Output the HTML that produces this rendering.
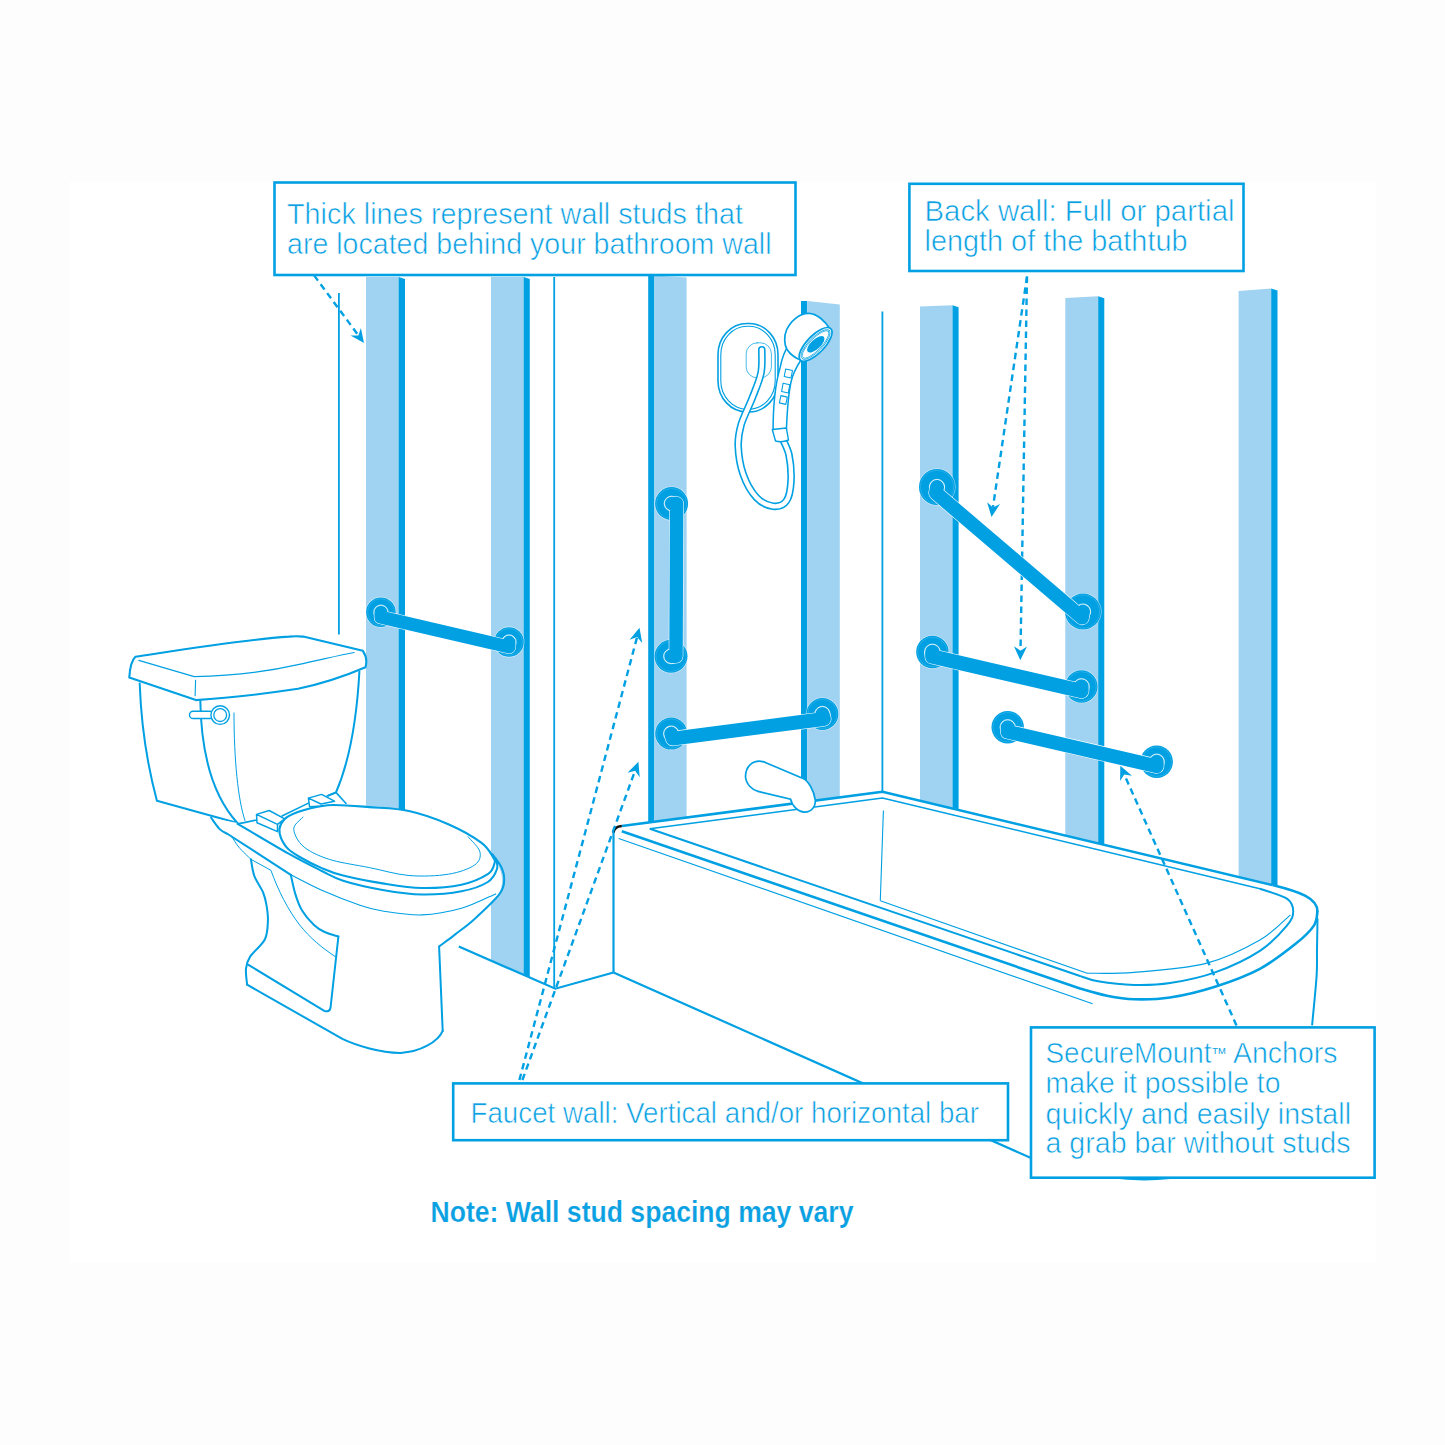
<!DOCTYPE html>
<html><head><meta charset="utf-8"><style>
html,body{margin:0;padding:0;background:#fdfdfd;}
svg{display:block;}
text{font-family:"Liberation Sans", sans-serif;}
</style></head><body>
<svg width="1445" height="1445" viewBox="0 0 1445 1445">
<rect x="0" y="0" width="1445" height="1445" fill="#fdfdfd"/>
<rect x="69" y="182" width="1307" height="1081" fill="#ffffff"/>
<g stroke="#00a0e3" stroke-width="1.8" fill="none">
<path d="M338.9,293 V634.5"/>
<path d="M554.2,277 V988.7"/>
<path d="M882.4,311.6 V795"/>
</g>
<path d="M366,277 L398.6,277 L398.6,812 L366,812Z" fill="#a0d2f1"/><path d="M398.6,277 L405,279 L405,812 L398.6,812Z" fill="#00a0e3"/>
<path d="M491,277 L523.6,277 L523.6,974.8 L491,960.6 Z" fill="#a0d2f1"/>
<path d="M523.6,277 L529.8,279 L529.8,977.5 L523.6,974.8 Z" fill="#00a0e3"/>
<path d="M648.2,275.5 L654.4,275.5 L654.4,830 L648.2,830Z" fill="#00a0e3"/><path d="M654.4,275.5 L686.6,277.5 L686.6,830 L654.4,830Z" fill="#a0d2f1"/>
<path d="M801,301 L807.2,301 L807.2,805 L801,805Z" fill="#00a0e3"/><path d="M807.2,301 L839.8,304.5 L839.8,805 L807.2,805Z" fill="#a0d2f1"/>
<path d="M920,306.4 L952.5,305.2 L952.5,820 L920,820Z" fill="#a0d2f1"/><path d="M952.5,305.2 L958.6,307.2 L958.6,820 L952.5,820Z" fill="#00a0e3"/>
<path d="M1065.3,298.09999999999997 L1098.2,296.2 L1098.2,850 L1065.3,850Z" fill="#a0d2f1"/><path d="M1098.2,296.2 L1104.3,298.2 L1104.3,850 L1098.2,850Z" fill="#00a0e3"/>
<path d="M1238.6,291.0 L1271.2,288.5 L1271.2,890 L1238.6,890Z" fill="#a0d2f1"/><path d="M1271.2,288.5 L1277.5,290.5 L1277.5,890 L1271.2,890Z" fill="#00a0e3"/>
<g fill="none" stroke="#00a0e3" stroke-linejoin="round" stroke-linecap="round">
<rect x="718" y="323.5" width="60" height="88.5" rx="29" ry="31" stroke-width="1.6" fill="#fff"/>
<rect x="720.8" y="326.3" width="54.4" height="82.9" rx="26.5" ry="28.5" stroke-width="1.1"/>
<rect x="746.2" y="342.8" width="25.2" height="35" rx="11" stroke-width="0.9" opacity="0.8"/>
<path d="M761.8,349.8 C761.7,353.7 762.6,365.0 761.0,373.0 C759.4,381.0 755.6,389.3 752.3,397.9 C749.0,406.5 743.6,416.5 741.2,424.5 C738.9,432.5 737.9,437.8 738.2,446.1 C738.5,454.4 740.2,465.7 743.2,474.3 C746.2,482.9 751.5,492.3 756.5,497.6 C761.5,502.9 768.1,505.6 773.1,506.2 C778.1,506.8 783.4,505.1 786.4,500.9 C789.4,496.7 790.6,488.8 791.0,481.0 C791.4,473.2 790.5,461.9 788.9,454.4 C787.2,446.9 782.4,439.1 781.1,436.0" stroke-width="7.6"/>
<path d="M761.8,349.8 C761.7,353.7 762.6,365.0 761.0,373.0 C759.4,381.0 755.6,389.3 752.3,397.9 C749.0,406.5 743.6,416.5 741.2,424.5 C738.9,432.5 737.9,437.8 738.2,446.1 C738.5,454.4 740.2,465.7 743.2,474.3 C746.2,482.9 751.5,492.3 756.5,497.6 C761.5,502.9 768.1,505.6 773.1,506.2 C778.1,506.8 783.4,505.1 786.4,500.9 C789.4,496.7 790.6,488.8 791.0,481.0 C791.4,473.2 790.5,461.9 788.9,454.4 C787.2,446.9 782.4,439.1 781.1,436.0" stroke="#fff" stroke-width="4.4"/>
<path d="M773.1,430.3 C773.1,410 775,385 780,368 C782,358 785,350 789,345 L801,360 C797,366 793,373 791,382 C788,396 787,415 786.4,429.5 Z" fill="#fff" stroke-width="1.5"/>
<path d="M772.3,429.5 L786.4,428 L788.5,440 C784,442 779,442 775.5,441 Z" fill="#fff" stroke-width="1.4"/>
<path d="M785.7,369 L792.5,370.5 L791.0,378 L784.2,376.5 Z" stroke-width="1.1"/>
<path d="M783.1,383.2 L789.8,384.7 L788.3,393 L781.6,391.5 Z" stroke-width="1.1"/>
<path d="M780.9,395.6 L787.3,397.1 L785.8,404.4 L779.4,402.9 Z" stroke-width="1.1"/>
<path d="M830,329 C825,321 817,313.5 808.8,313.3 C799,313 790,322 786.5,330 C783.5,337 784.5,345 787,349.5 C790,354 795,358 801.5,360.5 Z" fill="#fff" stroke-width="1.7"/>
<ellipse cx="815.6" cy="344.4" rx="21.8" ry="8.8" transform="rotate(-46 815.6 344.4)" fill="#fff" stroke-width="1.7"/>
<ellipse cx="815.6" cy="344.4" rx="19.6" ry="6.9" transform="rotate(-46 815.6 344.4)" stroke-width="0.8"/>
<ellipse cx="815.6" cy="344.4" rx="18.2" ry="5.8" transform="rotate(-46 815.6 344.4)" stroke-width="0.7"/>
<ellipse cx="815.8" cy="344.2" rx="11" ry="4.8" transform="rotate(-43 815.8 344.2)" fill="#00a0e3" stroke="none"/>
</g>
<path d="M613.5,830 Q614,826 621.8,826 L882.4,791.8 L1272.5,885.1 C1300,892 1318,900 1317.5,915 C1317,960 1316,990 1312,1025 L1312,1180 L1031,1180 L613.5,972.5 Z" fill="#fff"/>
<g fill="none" stroke="#00a0e3" stroke-linejoin="round">
<path d="M621.8,826 L882.4,791.8 L1272.5,885.1" stroke-width="2.6"/>
<path d="M613.5,833 Q614,826.5 621.8,826" stroke="#111" stroke-width="2.4"/>
<path d="M649.8,828.8 L882.4,798 L1259.9,888.7" stroke-width="1.5"/>
<path d="M621.8,831.2 L1080,988.5  C1084.5,989.7 1098.0,993.9 1107.0,995.7 C1116.0,997.5 1123.5,999.0 1134.0,999.3 C1144.5,999.6 1156.5,999.6 1170.0,997.5 C1183.5,995.4 1200.0,991.5 1215.0,986.7 C1230.0,981.9 1246.4,976.0 1259.9,968.8 C1273.4,961.6 1286.9,950.8 1295.9,943.6 C1304.9,936.4 1310.3,931.0 1313.9,925.6 C1317.5,920.2 1316.9,913.6 1317.5,911.2" stroke-width="2.6"/>
<path d="M1272.5,885.1 C1300,892 1318,898 1317.5,912" stroke-width="2.6"/>
<path d="M649.8,828.8 L1080,976  C1083.0,976.9 1089.0,979.8 1098.0,981.3 C1107.0,982.8 1122.0,984.7 1134.0,985.0 C1146.0,985.3 1156.5,985.2 1170.0,983.1 C1183.5,981.0 1200.0,977.8 1215.0,972.4 C1230.0,967.0 1247.9,958.6 1259.9,950.8 C1271.9,943.0 1281.4,932.2 1286.9,925.6 C1292.5,919.0 1293.2,915.7 1293.2,911.2 C1293.2,906.7 1292.5,902.4 1286.9,898.6 C1281.4,894.9 1264.4,890.4 1259.9,888.7" stroke-width="2"/>
<path d="M880.3,900.8 L1087.2,973.3  C1095.0,973.1 1114.2,974.0 1134.0,972.4 C1153.8,970.8 1185.0,968.8 1206.0,963.4 C1227.0,958.0 1245.8,948.1 1259.9,940.0 C1274.0,931.9 1285.4,919.0 1290.5,914.8" stroke-width="1.1"/>
<path d="M883.4,810.5 L880.3,900.8" stroke-width="1.1"/>
<path d="M618.7,838.5 L1092.6,1003.8" stroke-width="1.2"/>
<path d="M613.5,832 L613.5,972.5" stroke-width="2.2"/>
<path d="M1317.5,918.4 C1317.4,923.7 1317.2,940.4 1317.0,950.0 C1316.8,959.6 1317.4,963.4 1316.6,976.0 C1315.8,988.6 1312.8,1017.2 1312.1,1025.4" stroke-width="2"/>
<path d="M613.5,972.5 L1031,1158" stroke-width="2.2"/>
<path d="M1110,1177 Q1140,1181 1170,1178" stroke-width="2.2"/>
</g>
<path d="M765.9,762.8 L803.7,778.8 C808,781 814,790 815.3,800.1 C815.8,806 812,812 804.7,812.2 C799,812.5 792,806 790.6,799.1 L758.1,791.4 C752,790 746,784 745.5,776.8 C745.5,766 753,760.5 761,761.3 C763,761.5 764.5,762 765.9,762.8 Z" fill="#fff" stroke="#00a0e3" stroke-width="1.7"/>
<path d="M458.8,946.6 L555.3,988.7 L613.5,972.5" fill="none" stroke="#00a0e3" stroke-width="2.2" stroke-linejoin="miter"/>
<g fill="none" stroke="#00a0e3" stroke-linejoin="round" stroke-linecap="round">
<path d="M139.7,683.6 C141,720 146,760 156.9,800.8 L238,823.2 L336,792.4 C348,760 356,715 359.4,671.5 Z" fill="#fff" stroke="none"/>
<path d="M139.7,683.6 C141,720 146,760 156.9,800.8 L237.4,823" stroke-width="2"/>
<path d="M359.4,671.5 C357,715 350,760 336,792.4 L328.3,795.6" stroke-width="2"/>
<path d="M200.3,700.1 C201,750 212,795 237.4,823" stroke-width="2"/>
<path d="M234,713 C234,760 238,800 245,820.6" stroke-width="1"/>
<rect x="189.5" y="711.3" width="24" height="7.2" rx="3.6" fill="#fff" stroke-width="1.4"/>
<circle cx="220.2" cy="715.1" r="9.3" fill="#fff" stroke-width="1.4"/>
<circle cx="220.2" cy="715.1" r="6.4" stroke-width="1.3"/>
<path d="M135.4,656.8 C132,660 130,666 129.3,677.6 L195.9,700.1 C230,698 270,693 298,688.8 C320,684 345,676 365.5,667.2 C367,662 367,657 362.9,650.8 L303.2,636.6 C298,636 294,636 289,636.6 C240,640 180,650 135.4,656.8 Z" fill="#fff" stroke-width="2.1"/>
<path d="M138.8,660.3 L194.2,676.7 C230,676 270,671 298,664.6 C320,660 340,655 354.2,652.5" stroke-width="1.2"/>
<path d="M195.6,680.2 L195.1,695.7" stroke-width="1.1"/>
<path d="M211.4,818 L237.4,823 L256,819 L308,804 L330,804 L346,805 C420,805 480,830 494,858 C506,875 503,890 496,897 C480,915 460,930 439.1,946.5 L442.7,1030.9 C440,1045 425,1050 400.6,1052.9 C380,1052 360,1046 342.4,1038.9 L247.1,984.7 C245,975 246,968 250.1,956.6 C262,945 268,930 267.9,920.8 C267,902 260,892 254.8,879.7 C240,860 220,840 211.4,818 Z" fill="#fff" stroke="none"/>
<path d="M250.9,859.3 C251.5,862.1 252.3,870.4 254.3,875.9 C256.3,881.4 261.1,887.7 263.1,892.5 C265.1,897.3 265.6,900.0 266.4,904.7 C267.2,909.4 268.2,915.0 267.9,920.8 C267.6,926.6 267.8,933.5 264.8,939.5 C261.8,945.5 253.2,951.8 250.1,956.6 C247.0,961.5 246.5,963.9 246.0,968.6 C245.5,973.3 246.9,982.0 247.1,984.7" stroke-width="2"/>
<path d="M247.1,984.7 L342.4,1038.9 C355,1045 380,1053 400.6,1052.9 C420,1052 438,1042 442.7,1030.9" stroke-width="2"/>
<path d="M248,964.6 L324.3,1010.8 C327,1012 330,1011 330.5,1008 L338.4,936.5"  stroke-width="2"/>
<path d="M290.8,874.8 C291.5,877.9 293.4,887.7 295.2,893.6 C297.0,899.5 298.8,905.0 301.9,910.2 C305.0,915.4 310.2,921.4 314.0,925.0 C317.8,928.6 320.5,930.1 324.6,932.0 C328.7,933.9 336.1,935.8 338.4,936.5" stroke-width="2"/>
<path d="M232.1,837.1 C233.2,838.8 235.7,843.4 238.8,847.1 C241.9,850.8 248.9,857.3 250.9,859.3 L270.9,870.3 C278,890 288,910 299.7,925 C310,938 322,948 335.8,956.9" stroke-width="1"/>
<path d="M442.7,1030.9 L439.1,946.5" stroke-width="2"/>
<path d="M492.4,854.4 C493.8,856.4 498.9,862.1 500.9,866.3 C502.9,870.5 504.4,874.8 504.2,879.4 C504.0,884.0 504.5,887.3 499.6,893.9 C494.7,900.5 482.1,912.1 474.6,918.9 C467.2,925.7 460.8,930.0 454.9,934.6 C449.0,939.2 441.7,944.5 439.1,946.5" stroke-width="2"/>
<path d="M211.1,817.7 C212.6,819.7 217.1,826.7 219.9,829.4 C222.7,832.1 226.4,833.2 227.7,834.0 L290.8,874.8" stroke-width="2"/>
<path d="M290.8,874.8 C296.0,877.4 310.3,885.2 321.8,890.3 C333.3,895.4 349.9,901.8 360.0,905.2 C370.1,908.7 372.3,909.4 382.6,911.0 C392.9,912.6 408.9,915.4 422.0,914.9 C435.1,914.4 449.2,911.8 461.5,908.3 C473.8,904.8 490.0,896.3 495.7,893.9" stroke-width="1.1"/>
<path d="M237.6,823.8 C246.1,828.8 274.6,845.8 288.6,853.7 C302.6,861.6 312.7,866.5 321.8,871.0 C330.9,875.5 333.0,877.6 343.1,880.7 C353.2,883.9 369.5,887.6 382.6,889.9 C395.8,892.2 408.9,894.3 422.0,894.5 C435.1,894.7 450.5,893.4 461.5,891.3 C472.5,889.2 481.9,885.7 487.8,882.0 C493.7,878.3 495.7,872.8 497.0,868.9 C498.3,865.0 495.9,860.1 495.7,858.4" stroke-width="2"/>
<path d="M237.6,823.8 C242,823 250,821.5 256.5,820" stroke-width="1.6"/>
<path d="M279.7,833.8 C278.8,829.9 279.5,827.0 281.0,824.0 C282.5,821.0 283.7,818.7 288.6,816.1 C293.6,813.5 303.3,810.1 310.7,808.3 C318.1,806.4 323.1,805.2 332.9,805.0 C342.7,804.8 356.7,806.1 369.4,807.1 C382.1,808.1 395.8,808.1 408.9,811.0 C422.0,813.9 436.2,818.9 448.3,824.2 C460.4,829.5 473.8,837.1 481.2,842.6 C488.6,848.1 490.8,853.6 493.0,857.1 C495.2,860.6 495.3,860.8 494.4,863.6 C493.5,866.5 493.3,870.7 487.8,874.2 C482.3,877.7 472.5,882.4 461.5,884.7 C450.5,887.0 435.1,888.2 422.0,888.0 C408.9,887.8 395.8,885.5 382.6,883.4 C369.5,881.3 353.2,878.0 343.1,875.5 C333.0,873.0 329.0,871.2 321.8,868.1 C314.6,865.0 305.6,860.5 299.7,857.0 C293.8,853.5 289.7,851.0 286.4,847.1 C283.1,843.2 280.6,837.6 279.7,833.8Z" fill="#fff" stroke-width="2.1"/>
<path d="M303.0,817.2 C301.7,818.5 296.7,822.5 295.2,824.9 C293.7,827.3 293.4,828.6 294.1,831.6 C294.9,834.6 296.9,839.3 299.7,842.6 C302.5,845.9 305.2,848.5 310.7,851.5 C316.2,854.5 323.1,857.7 332.9,860.4 C342.7,863.1 356.7,865.1 369.4,867.6 C382.1,870.1 395.8,874.4 408.9,875.5 C422.0,876.6 437.4,876.0 448.3,874.2 C459.2,872.5 469.3,868.7 474.6,865.0 C479.9,861.3 481.0,856.5 479.9,851.8 C478.8,847.1 470.0,839.2 468.0,836.7" stroke-width="1"/>
<path d="M256.5,814.4 L269.2,810.5 L284.7,818.8 L277.5,824.4 Z M256.5,814.4 L257,822.7 L277.5,831.6 L277.5,824.4" fill="#fff" stroke-width="1.5"/>
<path d="M282,816 L308.4,803.1" stroke-width="1.6"/>
<path d="M308.4,798.1 L321.5,794.4 L334.5,801.2 L321,804 Z M308.4,798.1 L309.6,806.8 L321,806" fill="#fff" stroke-width="1.5"/>
<path d="M327,796 L336,792.4 L346,803.5" stroke-width="1.6"/>
</g>
<line x1="314.1" y1="275.4" x2="358.4" y2="335.4" stroke="#00a0e3" stroke-width="2.4" stroke-dasharray="6.5,4.5"/><path d="M364,343 L350.5,335.6 L358.4,335.4 L360.9,327.9 Z" fill="#00a0e3"/>
<line x1="1027" y1="276.6" x2="992.9" y2="507.6" stroke="#00a0e3" stroke-width="2.4" stroke-dasharray="6.5,4.5"/><path d="M991.5,517 L987.1,502.2 L992.9,507.6 L1000.0,504.1 Z" fill="#00a0e3"/>
<line x1="1027" y1="276.6" x2="1020.5" y2="650.8" stroke="#00a0e3" stroke-width="2.4" stroke-dasharray="6.5,4.5"/><path d="M1020.3,660.3 L1014.0,646.2 L1020.5,650.8 L1027.0,646.4 Z" fill="#00a0e3"/>
<line x1="519.4" y1="1080" x2="637.1" y2="637.0" stroke="#00a0e3" stroke-width="2.4" stroke-dasharray="6.5,4.5"/><path d="M639.5,627.8 L642.2,643.0 L637.1,637.0 L629.6,639.7 Z" fill="#00a0e3"/>
<line x1="522.4" y1="1080" x2="635.1" y2="770.7" stroke="#00a0e3" stroke-width="2.4" stroke-dasharray="6.5,4.5"/><path d="M638.4,761.8 L639.7,777.2 L635.1,770.7 L627.5,772.7 Z" fill="#00a0e3"/>
<line x1="1236.5" y1="1025.4" x2="1124.2" y2="774.4" stroke="#00a0e3" stroke-width="2.4" stroke-dasharray="6.5,4.5"/><path d="M1120.3,765.7 L1132.0,775.8 L1124.2,774.4 L1120.1,781.1 Z" fill="#00a0e3"/>
<g><circle cx="380.9" cy="612.2" r="15.4" fill="#fff" opacity="0.6"/><circle cx="380.9" cy="612.2" r="14.8" fill="#00a0e3"/><circle cx="380.9" cy="612.2" r="13.4" fill="none" stroke="#fff" stroke-width="0.4" opacity="0.35"/><circle cx="380.9" cy="612.2" r="7.2" fill="none" stroke="#fff" stroke-width="0.7"/><circle cx="509" cy="642" r="15.4" fill="#fff" opacity="0.6"/><circle cx="509" cy="642" r="14.8" fill="#00a0e3"/><circle cx="509" cy="642" r="13.4" fill="none" stroke="#fff" stroke-width="0.4" opacity="0.35"/><circle cx="509" cy="642" r="7.2" fill="none" stroke="#fff" stroke-width="0.7"/><path d="M380.9,612.2 L380.9,617.2 L509.0,647.0 L509,642" fill="none" stroke="#fff" stroke-width="14.1" stroke-linecap="round" stroke-linejoin="round"/><path d="M380.9,612.2 L380.9,617.2 L509.0,647.0 L509,642" fill="none" stroke="#00a0e3" stroke-width="13" stroke-linecap="round" stroke-linejoin="round"/></g>
<g><circle cx="671.6" cy="503.6" r="17.1" fill="#fff" opacity="0.6"/><circle cx="671.6" cy="503.6" r="16.5" fill="#00a0e3"/><circle cx="671.6" cy="503.6" r="15.1" fill="none" stroke="#fff" stroke-width="0.4" opacity="0.35"/><circle cx="671.6" cy="503.6" r="7.45" fill="none" stroke="#fff" stroke-width="0.7"/><circle cx="671" cy="656.3" r="17.1" fill="#fff" opacity="0.6"/><circle cx="671" cy="656.3" r="16.5" fill="#00a0e3"/><circle cx="671" cy="656.3" r="15.1" fill="none" stroke="#fff" stroke-width="0.4" opacity="0.35"/><circle cx="671" cy="656.3" r="7.45" fill="none" stroke="#fff" stroke-width="0.7"/><path d="M671.6,503.6 L676.6,503.6 L676.0,656.3 L671,656.3" fill="none" stroke="#fff" stroke-width="14.6" stroke-linecap="round" stroke-linejoin="round"/><path d="M671.6,503.6 L676.6,503.6 L676.0,656.3 L671,656.3" fill="none" stroke="#00a0e3" stroke-width="13.5" stroke-linecap="round" stroke-linejoin="round"/></g>
<g><circle cx="671.2" cy="733.6" r="16.6" fill="#fff" opacity="0.6"/><circle cx="671.2" cy="733.6" r="16" fill="#00a0e3"/><circle cx="671.2" cy="733.6" r="14.6" fill="none" stroke="#fff" stroke-width="0.4" opacity="0.35"/><circle cx="671.2" cy="733.6" r="7.7" fill="none" stroke="#fff" stroke-width="0.7"/><circle cx="822.4" cy="714" r="16.6" fill="#fff" opacity="0.6"/><circle cx="822.4" cy="714" r="16" fill="#00a0e3"/><circle cx="822.4" cy="714" r="14.6" fill="none" stroke="#fff" stroke-width="0.4" opacity="0.35"/><circle cx="822.4" cy="714" r="7.7" fill="none" stroke="#fff" stroke-width="0.7"/><path d="M671.2,733.6 L672.7,738.6 L823.9,719.0 L822.4,714" fill="none" stroke="#fff" stroke-width="15.1" stroke-linecap="round" stroke-linejoin="round"/><path d="M671.2,733.6 L672.7,738.6 L823.9,719.0 L822.4,714" fill="none" stroke="#00a0e3" stroke-width="14" stroke-linecap="round" stroke-linejoin="round"/></g>
<g><circle cx="937" cy="487" r="18.6" fill="#fff" opacity="0.6"/><circle cx="937" cy="487" r="18" fill="#00a0e3"/><circle cx="937" cy="487" r="16.6" fill="none" stroke="#fff" stroke-width="0.4" opacity="0.35"/><circle cx="937" cy="487" r="7.7" fill="none" stroke="#fff" stroke-width="0.7"/><circle cx="1083" cy="611.6" r="18.6" fill="#fff" opacity="0.6"/><circle cx="1083" cy="611.6" r="18" fill="#00a0e3"/><circle cx="1083" cy="611.6" r="16.6" fill="none" stroke="#fff" stroke-width="0.4" opacity="0.35"/><circle cx="1083" cy="611.6" r="7.7" fill="none" stroke="#fff" stroke-width="0.7"/><path d="M937,487 L936.0,493.0 L1082.0,617.6 L1083,611.6" fill="none" stroke="#fff" stroke-width="15.1" stroke-linecap="round" stroke-linejoin="round"/><path d="M937,487 L936.0,493.0 L1082.0,617.6 L1083,611.6" fill="none" stroke="#00a0e3" stroke-width="14" stroke-linecap="round" stroke-linejoin="round"/></g>
<g><circle cx="932.4" cy="652" r="16.8" fill="#fff" opacity="0.6"/><circle cx="932.4" cy="652" r="16.2" fill="#00a0e3"/><circle cx="932.4" cy="652" r="14.799999999999999" fill="none" stroke="#fff" stroke-width="0.4" opacity="0.35"/><circle cx="932.4" cy="652" r="7.95" fill="none" stroke="#fff" stroke-width="0.7"/><circle cx="1081.4" cy="686.5" r="16.8" fill="#fff" opacity="0.6"/><circle cx="1081.4" cy="686.5" r="16.2" fill="#00a0e3"/><circle cx="1081.4" cy="686.5" r="14.799999999999999" fill="none" stroke="#fff" stroke-width="0.4" opacity="0.35"/><circle cx="1081.4" cy="686.5" r="7.95" fill="none" stroke="#fff" stroke-width="0.7"/><path d="M932.4,652 L932.4,656.5 L1081.4,691.0 L1081.4,686.5" fill="none" stroke="#fff" stroke-width="15.6" stroke-linecap="round" stroke-linejoin="round"/><path d="M932.4,652 L932.4,656.5 L1081.4,691.0 L1081.4,686.5" fill="none" stroke="#00a0e3" stroke-width="14.5" stroke-linecap="round" stroke-linejoin="round"/></g>
<g><circle cx="1007.7" cy="727.2" r="16.8" fill="#fff" opacity="0.6"/><circle cx="1007.7" cy="727.2" r="16.2" fill="#00a0e3"/><circle cx="1007.7" cy="727.2" r="14.799999999999999" fill="none" stroke="#fff" stroke-width="0.4" opacity="0.35"/><circle cx="1007.7" cy="727.2" r="7.7" fill="none" stroke="#fff" stroke-width="0.7"/><circle cx="1156.7" cy="761.7" r="16.8" fill="#fff" opacity="0.6"/><circle cx="1156.7" cy="761.7" r="16.2" fill="#00a0e3"/><circle cx="1156.7" cy="761.7" r="14.799999999999999" fill="none" stroke="#fff" stroke-width="0.4" opacity="0.35"/><circle cx="1156.7" cy="761.7" r="7.7" fill="none" stroke="#fff" stroke-width="0.7"/><path d="M1007.7,727.2 L1007.7,731.7 L1156.7,766.2 L1156.7,761.7" fill="none" stroke="#fff" stroke-width="15.1" stroke-linecap="round" stroke-linejoin="round"/><path d="M1007.7,727.2 L1007.7,731.7 L1156.7,766.2 L1156.7,761.7" fill="none" stroke="#00a0e3" stroke-width="14" stroke-linecap="round" stroke-linejoin="round"/></g>
<rect x="274.5" y="182.5" width="521.0" height="92.5" fill="#ffffff" stroke="#00a0e3" stroke-width="2.6"/>
<rect x="909.4" y="183.8" width="334.1" height="87.19999999999999" fill="#ffffff" stroke="#00a0e3" stroke-width="2.6"/>
<rect x="453.2" y="1083.4" width="554.8" height="56.799999999999955" fill="#ffffff" stroke="#00a0e3" stroke-width="2.6"/>
<rect x="1031" y="1027.4" width="343.5999999999999" height="150.29999999999995" fill="#ffffff" stroke="#00a0e3" stroke-width="2.6"/>
<text x="287" y="224.0" font-size="29.3" font-weight="normal" fill="#0aa0e2" stroke="#fff" stroke-width="0.6" textLength="456" lengthAdjust="spacingAndGlyphs">Thick lines represent wall studs that</text>
<text x="287" y="253.9" font-size="29.3" font-weight="normal" fill="#0aa0e2" stroke="#fff" stroke-width="0.6" textLength="484.5" lengthAdjust="spacingAndGlyphs">are located behind your bathroom wall</text>
<text x="924.5" y="220.60000000000002" font-size="29.3" font-weight="normal" fill="#0aa0e2" stroke="#fff" stroke-width="0.6" textLength="310" lengthAdjust="spacingAndGlyphs">Back wall: Full or partial</text>
<text x="924.5" y="251.10000000000002" font-size="29.3" font-weight="normal" fill="#0aa0e2" stroke="#fff" stroke-width="0.6" textLength="263" lengthAdjust="spacingAndGlyphs">length of the bathtub</text>
<text x="470.5" y="1122.6" font-size="29.3" font-weight="normal" fill="#0aa0e2" stroke="#fff" stroke-width="0.6" textLength="508.5" lengthAdjust="spacingAndGlyphs">Faucet wall: Vertical and/or horizontal bar</text>
<text x="1045.5" y="1063.3" font-size="29.3" font-weight="normal" fill="#0aa0e2" stroke="#fff" stroke-width="0.6" textLength="166" lengthAdjust="spacingAndGlyphs">SecureMount</text>
<text x="1212.3" y="1054.2" font-size="8.5" font-weight="normal" fill="#0aa0e2" stroke="#fff" stroke-width="0" textLength="13.5" lengthAdjust="spacingAndGlyphs">TM</text>
<text x="1233" y="1063.3" font-size="29.3" font-weight="normal" fill="#0aa0e2" stroke="#fff" stroke-width="0.6" textLength="104.5" lengthAdjust="spacingAndGlyphs">Anchors</text>
<text x="1045.5" y="1093.2" font-size="29.3" font-weight="normal" fill="#0aa0e2" stroke="#fff" stroke-width="0.6" textLength="235" lengthAdjust="spacingAndGlyphs">make it possible to</text>
<text x="1045.5" y="1123.5" font-size="29.3" font-weight="normal" fill="#0aa0e2" stroke="#fff" stroke-width="0.6" textLength="305.5" lengthAdjust="spacingAndGlyphs">quickly and easily install</text>
<text x="1045.5" y="1152.8999999999999" font-size="29.3" font-weight="normal" fill="#0aa0e2" stroke="#fff" stroke-width="0.6" textLength="305" lengthAdjust="spacingAndGlyphs">a grab bar without studs</text>
<text x="430.5" y="1222" font-size="29.5" font-weight="bold" fill="#0aa0e2" stroke="#fff" stroke-width="0.2" textLength="423" lengthAdjust="spacingAndGlyphs">Note: Wall stud spacing may vary</text>
</svg>
</body></html>
